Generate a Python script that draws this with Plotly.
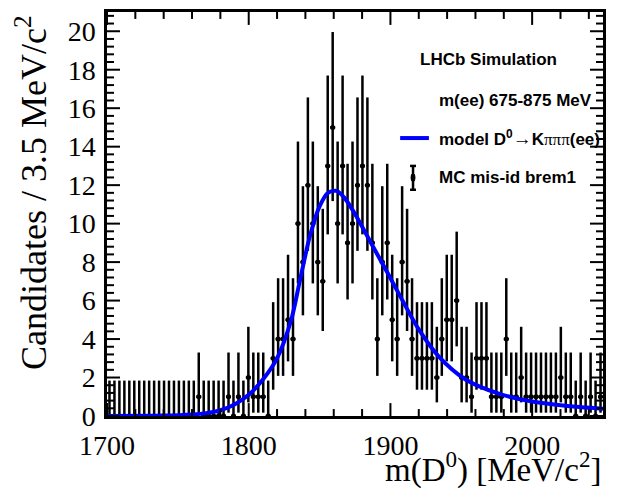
import math
import plotly.graph_objects as go

# Histogram binning of m(D0): 100 bins of 3.5 MeV from 1700 to 2050
mass_lo = 1700.0
mass_hi = 2050.0
bin_width = 3.5
y_max = 21.0

# Candidates per bin (MC mis-id brem1 sample)
counts = [
    0, 0, 0, 0, 0, 0, 0, 0, 0, 0,
    0, 0, 0, 0, 0, 0, 0, 0, 1, 0,
    0, 0, 0, 0, 1, 0, 1, 0, 2, 1,
    1, 1, 0, 3, 4, 4, 5, 4, 10, 8,
    12, 10, 8, 7, 13, 15, 10, 13, 9, 10,
    12, 13, 12, 9, 4, 8, 9, 5, 4, 8,
    7, 4, 3, 3, 3, 3, 2, 4, 5, 5,
    6, 2, 2, 1, 3, 3, 3, 1, 1, 1,
    4, 1, 1, 2, 1, 1, 1, 1, 1, 1,
    1, 2, 1, 1, 0, 1, 0, 1, 0, 1,
]

# Fitted model D0 -> K pi pi pi (ee), sampled along the mass axis
model_mass = [1700, 1740, 1760, 1770, 1780, 1790, 1800, 1810, 1820, 1830,
              1836, 1843, 1850, 1856, 1862, 1868, 1875, 1887, 1899, 1910,
              1920, 1934, 1953, 1977, 2000, 2025, 2050]
model_yield = [0.0, 0.02, 0.08, 0.15, 0.3, 0.6, 1.1, 1.9, 3.0, 5.0,
               7.0, 9.3, 10.9, 11.6, 11.7, 11.3, 10.5, 8.9, 7.3, 5.8,
               4.5, 3.1, 1.9, 1.15, 0.75, 0.52, 0.38]

# Axis tick marks: major / minor positions
x_major = [1700, 1800, 1900, 2000]
x_minor_step = 20
y_major = [0, 2, 4, 6, 8, 10, 12, 14, 16, 18, 20]
y_minor_step = 0.4

centers = [mass_lo + bin_width * (i + 0.5) for i in range(len(counts))]

ALPHA = 0.5 * (1.0 - 0.682689492)


def poisson_cdf(k, mu):
    term = math.exp(-mu)
    total = term
    for j in range(1, k + 1):
        term *= mu / j
        total += term
    return total


def solve(f, lo, hi, target, increasing):
    for _ in range(200):
        mid = 0.5 * (lo + hi)
        v = f(mid)
        if (v < target) == increasing:
            lo = mid
        else:
            hi = mid
    return 0.5 * (lo + hi)


def poisson_interval(n):
    hi_bound = n + 10.0 + 5.0 * math.sqrt(n + 1)
    upper = solve(lambda mu: poisson_cdf(n, mu), 0.0, hi_bound, ALPHA, False)
    if n == 0:
        lower = 0.0
    else:
        lower = solve(lambda mu: 1.0 - poisson_cdf(n - 1, mu), 0.0, float(n), ALPHA, True)
    return lower, upper


err_up, err_down = [], []
for n in counts:
    lo, up = poisson_interval(n)
    err_up.append(up - n)
    err_down.append(n - lo)

# Plot-area geometry in pixels (used to size the frame tick marks)
fig_w, fig_h = 623, 493
m_l, m_r, m_t, m_b = 107, 20, 9, 77
area_w = fig_w - m_l - m_r
area_h = fig_h - m_t - m_b
major_len, minor_len = 13, 7

x_minor = []
v = mass_lo
while v < mass_hi - 1e-9:
    if all(abs(v - m) > 1e-6 for m in x_major):
        x_minor.append(v)
    v += x_minor_step
y_minor = []
k = 0
while k * y_minor_step < y_max - 1e-9:
    val = round(k * y_minor_step, 6)
    if all(abs(val - m) > 1e-6 for m in y_major):
        y_minor.append(val)
    k += 1

fig = go.Figure()

fig.add_trace(go.Scatter(
    x=centers, y=counts, mode="markers",
    marker=dict(color="black", size=5),
    error_y=dict(type="data", symmetric=False, array=err_up, arrayminus=err_down,
                 color="black", thickness=2.5, width=0),
    error_x=dict(type="constant", value=bin_width / 2, color="black",
                 thickness=2.5, width=0),
    showlegend=False,
))

fig.add_trace(go.Scatter(
    x=model_mass, y=model_yield, mode="lines",
    line=dict(color="#0000ff", width=4, shape="spline", smoothing=0.8),
    showlegend=False,
))

# Frame tick marks on all four sides, pointing into the frame
tick_line = dict(color="black", width=2)
for vals, length in ((x_major, major_len), (x_minor, minor_len)):
    f = length / area_h
    for xv in vals:
        fig.add_shape(type="line", xref="x", yref="paper", x0=xv, x1=xv,
                      y0=0, y1=f, line=tick_line)
        fig.add_shape(type="line", xref="x", yref="paper", x0=xv, x1=xv,
                      y0=1, y1=1 - f, line=tick_line)
for vals, length in ((y_major, major_len), (y_minor, minor_len)):
    f = length / area_w
    for yv in vals:
        fig.add_shape(type="line", xref="paper", yref="y", x0=0, x1=f,
                      y0=yv, y1=yv, line=tick_line)
        fig.add_shape(type="line", xref="paper", yref="y", x0=1, x1=1 - f,
                      y0=yv, y1=yv, line=tick_line)

serif = "Liberation Serif, Times New Roman, serif"
sans = "Liberation Sans, Arial, sans-serif"

fig.update_xaxes(
    range=[mass_lo, mass_hi], tickmode="array", tickvals=x_major,
    ticks="", showline=True, linecolor="black", linewidth=2.5, mirror=True,
    showgrid=False, zeroline=False, ticklabelstandoff=3,
    tickfont=dict(family=serif, size=28, color="black"),
)
fig.update_yaxes(
    range=[0, y_max], tickmode="array", tickvals=y_major,
    ticks="", showline=True, linecolor="black", linewidth=2.5, mirror=True,
    showgrid=False, zeroline=False, ticklabelstandoff=3,
    tickfont=dict(family=serif, size=28, color="black"),
)

# Legend block drawn in paper coordinates
legend_font = dict(family=sans, size=17, color="black")
fig.add_annotation(xref="paper", yref="paper", x=0.627, y=0.882, xanchor="left",
                   yanchor="middle", showarrow=False, font=legend_font,
                   text="<b>LHCb Simulation</b>")
fig.add_annotation(xref="paper", yref="paper", x=0.665, y=0.781, xanchor="left",
                   yanchor="middle", showarrow=False, font=legend_font,
                   text="<b>m(ee) 675-875 MeV</b>")
fig.add_annotation(xref="paper", yref="paper", x=0.665, y=0.688, xanchor="left",
                   yanchor="middle", showarrow=False, font=legend_font,
                   text="<b>model D<sup>0</sup></b>"
                        "<span style=\"font-family:Liberation Serif;font-size:19px\">→</span>"
                        "<b>K</b><span style=\"font-family:Liberation Serif\">πππ</span><b>(ee)</b>")
fig.add_annotation(xref="paper", yref="paper", x=0.665, y=0.590, xanchor="left",
                   yanchor="middle", showarrow=False, font=legend_font,
                   text="<b>MC mis-id brem1</b>")

fig.add_shape(type="line", xref="paper", yref="paper", x0=0.591, x1=0.649,
              y0=0.688, y1=0.688, line=dict(color="#0000ff", width=4))
fig.add_shape(type="line", xref="paper", yref="paper", x0=0.617, x1=0.617,
              y0=0.560, y1=0.619, line=dict(color="black", width=2.5))
fig.add_shape(type="line", xref="paper", yref="paper", x0=0.611, x1=0.623,
              y0=0.619, y1=0.619, line=dict(color="black", width=2.5))
fig.add_shape(type="line", xref="paper", yref="paper", x0=0.611, x1=0.623,
              y0=0.560, y1=0.560, line=dict(color="black", width=2.5))
fig.add_shape(type="circle", xref="paper", yref="paper", x0=0.613, x1=0.621,
              y0=0.580, y1=0.600, line=dict(color="black", width=1), fillcolor="black")

# Axis titles
fig.add_annotation(xref="paper", yref="paper", x=1.0, y=-0.186, xanchor="right",
                   yanchor="bottom", showarrow=False,
                   font=dict(family=serif, size=33, color="black"),
                   text="m(D<sup>0</sup>) [MeV/c<sup>2</sup>]")
fig.add_annotation(xref="paper", yref="paper", x=-0.152, y=0.998, xanchor="center",
                   yanchor="top", showarrow=False, textangle=-90,
                   font=dict(family=serif, size=36, color="black"),
                   text="Candidates / 3.5 MeV/c<sup>2</sup>")

fig.update_layout(
    width=fig_w, height=fig_h,
    margin=dict(l=m_l, r=m_r, t=m_t, b=m_b),
    paper_bgcolor="white", plot_bgcolor="white",
)

fig.write_html("out.html")
